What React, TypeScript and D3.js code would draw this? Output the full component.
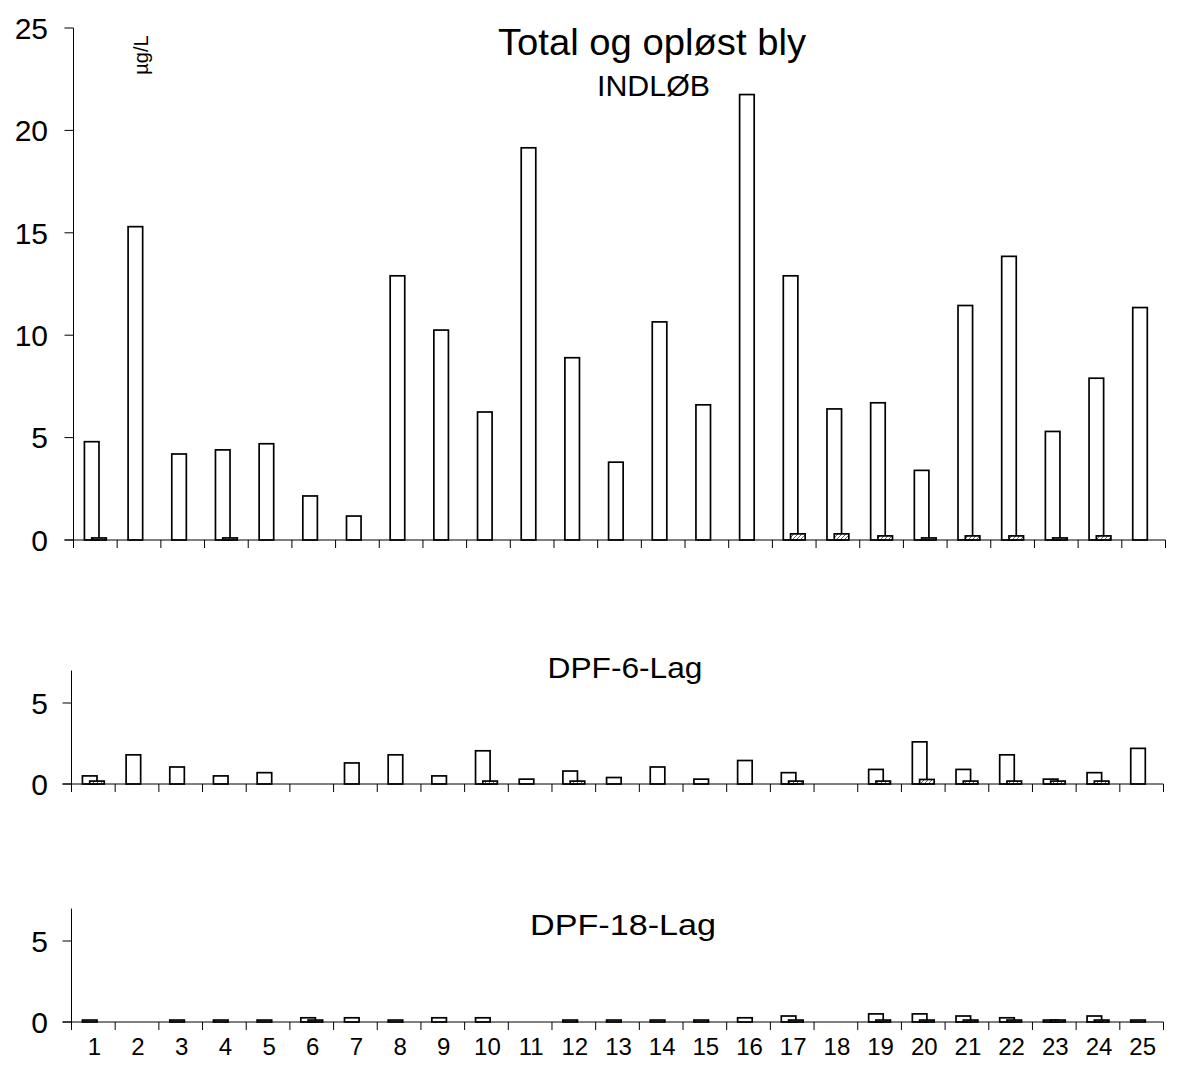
import React from "react";
import * as d3 from "d3";

const categories = d3.range(1, 26).map(String);

const indlobTotal = [4.8, 15.3, 4.2, 4.4, 4.7, 2.15, 1.17, 12.9, 10.25, 6.25, 19.15, 8.9, 3.8, 10.65, 6.6, 21.75, 12.9, 6.4, 6.7, 3.4, 11.45, 13.85, 5.3, 7.9, 11.35];
const indlobDissolved = [0.1, null, null, 0.1, null, null, null, null, null, null, null, null, null, null, null, null, 0.3, 0.3, 0.2, 0.1, 0.2, 0.2, 0.1, 0.2, null];

const dpf6Total = [0.5, 1.8, 1.05, 0.5, 0.7, null, 1.3, 1.8, 0.5, 2.05, 0.3, 0.8, 0.4, 1.05, 0.3, 1.45, 0.7, null, 0.9, 2.6, 0.9, 1.8, 0.3, 0.7, 2.2];
const dpf6Dissolved = [0.18, null, null, null, null, null, null, null, null, 0.18, null, 0.18, null, null, null, null, 0.18, null, 0.18, 0.28, 0.18, 0.18, 0.18, 0.18, null];

const dpf18Total = [0.12, null, 0.12, 0.12, 0.12, 0.26, 0.26, 0.12, 0.26, 0.26, null, 0.12, 0.12, 0.12, 0.12, 0.26, 0.37, null, 0.5, 0.5, 0.37, 0.26, 0.12, 0.37, 0.12];
const dpf18Dissolved = [null, null, null, null, null, 0.12, null, null, null, null, null, null, null, null, null, null, 0.12, null, 0.12, 0.12, 0.12, 0.12, 0.12, 0.12, null];

const topTicks = [0, 5, 10, 15, 20, 25];
const smallTicks = [0, 5];

const mainTitle = "Total og opløst bly";
const unitLabel = "µg/L";
const panelTitles = ["INDLØB", "DPF-6-Lag", "DPF-18-Lag"];

const FONT = "'Liberation Sans', Arial, Helvetica, sans-serif";

type Panel = {
  left: number;
  right: number;
  top: number;
  zero: number;
  max: number;
  ticks: number[];
  total: (number | null)[];
  diss: (number | null)[];
  title: string;
  titleX: number;
  titleY: number;
  titleSize: number;
  titleLen?: number;
  showLabels: boolean;
};

function PanelView({ p }: { p: Panel }) {
  const x = d3.scaleBand<string>().domain(categories).range([p.left, p.right]).padding(0);
  const y = d3.scaleLinear().domain([0, p.max]).range([p.zero, p.top]);
  const bw = x.bandwidth();
  const groupW = bw * 0.5;
  const barW = groupW / 1.5;
  const off = groupW - barW;
  const boundaries = d3.range(0, categories.length + 1).map((i) => p.left + i * bw);
  return (
    <g>
      <line x1={p.left} x2={p.left} y1={y(p.max)} y2={p.zero} stroke="#000" strokeWidth={1} />
      {p.ticks.map((t) => (
        <g key={t}>
          <line x1={p.left - 9} x2={p.left} y1={y(t)} y2={y(t)} stroke="#000" strokeWidth={1} />
          <text x={48} y={y(t)} dy="0.36em" textAnchor="end" fontSize={30} fontFamily={FONT} fill="#000">
            {t}
          </text>
        </g>
      ))}
      {categories.map((c, i) => {
        const v = p.total[i];
        const d = p.diss[i];
        const cx = (x(c) as number) + bw / 2;
        const gs = cx - groupW / 2;
        return (
          <g key={c}>
            {v != null && (
              <rect x={gs} y={y(v)} width={barW} height={p.zero - y(v)} fill="#fff" stroke="#000" strokeWidth={1.7} />
            )}
            {d != null && (
              <rect x={gs + off} y={y(d)} width={barW} height={p.zero - y(d)} fill="url(#hatch)" stroke="#000" strokeWidth={1.7} />
            )}
          </g>
        );
      })}
      <line x1={p.left - 9} x2={p.right} y1={p.zero} y2={p.zero} stroke="#000" strokeWidth={1} />
      {boundaries.map((bx, i) => (
        <line key={i} x1={bx} x2={bx} y1={p.zero} y2={p.zero + 8} stroke="#000" strokeWidth={1} />
      ))}
      {p.showLabels &&
        categories.map((c) => (
          <text key={c} x={(x(c) as number) + bw / 2 + 1} y={1055} textAnchor="middle" fontSize={24} fontFamily={FONT} fill="#000">
            {c}
          </text>
        ))}
      <text
        x={p.titleX}
        y={p.titleY}
        textAnchor="middle"
        fontSize={p.titleSize}
        fontFamily={FONT}
        fill="#000"
        {...(p.titleLen ? { textLength: p.titleLen, lengthAdjust: "spacingAndGlyphs" } : {})}
      >
        {p.title}
      </text>
    </g>
  );
}

export default function App() {
  const bandW = 43.68;
  const panels: Panel[] = [
    { left: 73.5, right: 73.5 + 25 * bandW, top: 28, zero: 540, max: 25, ticks: topTicks, total: indlobTotal, diss: indlobDissolved, title: panelTitles[0], titleX: 653.5, titleY: 96, titleSize: 29, titleLen: 113, showLabels: false },
    { left: 71.5, right: 71.5 + 25 * bandW, top: 670.6, zero: 784, max: 7, ticks: smallTicks, total: dpf6Total, diss: dpf6Dissolved, title: panelTitles[1], titleX: 625, titleY: 678, titleSize: 30, titleLen: 155, showLabels: false },
    { left: 71.5, right: 71.5 + 25 * bandW, top: 908.6, zero: 1022, max: 7, ticks: smallTicks, total: dpf18Total, diss: dpf18Dissolved, title: panelTitles[2], titleX: 623, titleY: 935, titleSize: 30, titleLen: 186, showLabels: true },
  ];
  return (
    <svg width={1180} height={1072} style={{ position: "absolute", left: 0, top: 0, background: "#fff" }}>
      <defs>
        <pattern id="hatch" width={4} height={4} patternUnits="userSpaceOnUse">
          <rect width={4} height={4} fill="#fff" />
          <path d="M0,4 L4,0" stroke="#666" strokeWidth={1} />
        </pattern>
      </defs>
      <rect width={1180} height={1072} fill="#fff" />
      <text x={652} y={55} textAnchor="middle" fontSize={36} fontFamily={FONT} fill="#000" textLength={308} lengthAdjust="spacingAndGlyphs">
        {mainTitle}
      </text>
      <text transform="translate(148,55) rotate(-90)" textAnchor="middle" fontSize={20} fontFamily={FONT} fill="#000">
        {unitLabel}
      </text>
      {panels.map((p, i) => (
        <PanelView key={i} p={p} />
      ))}
    </svg>
  );
}
